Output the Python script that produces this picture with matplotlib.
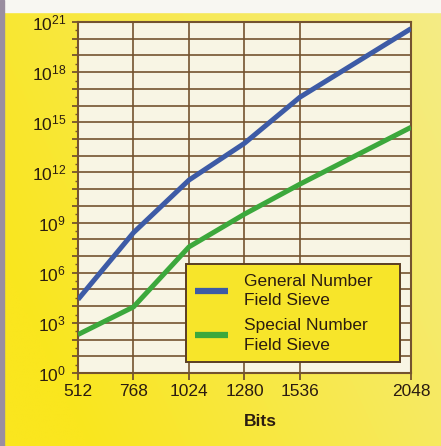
import matplotlib.pyplot as plt
import matplotlib.ticker as mticker
from matplotlib.lines import Line2D
import numpy as np

plt.rcParams['font.family'] = ['Liberation Sans', 'DejaVu Sans']
plt.rcParams['mathtext.default'] = 'regular'

bits = [512, 768, 1024, 1280, 1536, 2048]
gnfs_ops = [2.5e4, 2.5e8, 3.5e11, 5.6e13, 3.2e16, 4.0e20]
snfs_ops = [2.0e2, 9.0e3, 3.5e7, 3.2e9, 2.0e11, 5.0e14]
series_labels = ['General Number\nField Sieve', 'Special Number\nField Sieve']
x_ticks = [512, 768, 1024, 1280, 1536, 2048]
y_label_exps = [0, 3, 6, 9, 12, 15, 18, 21]

ink = '#2b1c10'
grid_brown = '#74532f'
blue = '#3d5ba6'
green = '#3ca83c'

fig = plt.figure(figsize=(4.41, 4.46), dpi=100)

# yellow page background with a soft left-to-right fade
bg = fig.add_axes([0, 0, 1, 1], zorder=-10)
gx = np.linspace(0, 1, 200)
gy = np.linspace(0, 1, 200)
X, Y = np.meshgrid(gx, gy)
t = np.clip(0.75 * X + 0.35 * (1 - Y) - 0.15, 0, 1)
c0 = np.array([250, 230, 30]) / 255
c1 = np.array([244, 236, 140]) / 255
img = c0[None, None, :] * (1 - t[..., None]) + c1[None, None, :] * t[..., None]
bg.imshow(img, extent=[0, 1, 0, 1], aspect='auto', origin='upper')
bg.add_patch(plt.Rectangle((0, 1 - 12 / 446), 1, 12 / 446, color='#f8f7f2'))
bg.add_patch(plt.Rectangle((0, 0), 4 / 441, 1, color='#9a8ea0'))
bg.set_xlim(0, 1)
bg.set_ylim(0, 1)
bg.axis('off')

ax = fig.add_axes([78 / 441, 73 / 446, 333 / 441, 351 / 446])
ax.set_facecolor('#f8f5e4')
ax.set_yscale('log')
ax.set_xlim(512, 2048)
ax.set_ylim(1, 1e21)

ax.plot(bits, gnfs_ops, color=blue, lw=3.6, solid_capstyle='butt', zorder=3)
ax.plot(bits, snfs_ops, color=green, lw=3.6, solid_capstyle='butt', zorder=3)

ax.set_xticks(x_ticks)
ax.set_xticklabels([str(b) for b in x_ticks])
ax.yaxis.set_major_locator(mticker.FixedLocator([10.0 ** e for e in range(22)]))
ax.yaxis.set_minor_locator(mticker.FixedLocator([10.0 ** (e + 0.5) for e in range(21)]))
ax.set_yticklabels(['$10^{%d}$' % e if e in y_label_exps else '' for e in range(22)])
ax.yaxis.set_minor_formatter(mticker.NullFormatter())

ax.grid(True, which='major', color=grid_brown, lw=1.2)
ax.set_axisbelow(True)
for s in ax.spines.values():
    s.set_color(grid_brown)
    s.set_linewidth(1.5)
ax.tick_params(axis='x', length=5, width=1.3, color=grid_brown, labelsize=12.5,
               labelcolor=ink, pad=3)
ax.tick_params(axis='y', which='major', length=4.5, width=1.3, color=grid_brown,
               labelsize=12.5, labelcolor=ink, pad=4)
ax.tick_params(axis='y', which='minor', length=2.5, width=1.0, color=grid_brown)

fig.text(260 / 441, 1 - 422 / 446, 'Bits', ha='center', va='center',
         fontsize=12.5, fontweight='bold', color=ink)

handles = [Line2D([], [], color=blue, lw=4.5, solid_capstyle='butt'),
           Line2D([], [], color=green, lw=4.5, solid_capstyle='butt')]
leg = ax.legend(handles, series_labels, loc='lower left',
                bbox_to_anchor=(0.324, 0.031, 0.643, 0.28), mode='expand',
                borderaxespad=0, fontsize=12.5,
                frameon=True, fancybox=False, framealpha=1, facecolor='#f7e52a',
                edgecolor='#5a3e22', handlelength=1.9, handletextpad=0.9,
                labelspacing=0.6, borderpad=0.55, labelcolor=ink)
for txt in leg.get_texts():
    txt.set_linespacing(1.35)
leg.get_frame().set_linewidth(1.4)
leg.set_zorder(5)

plt.savefig('out.png', dpi=100)
